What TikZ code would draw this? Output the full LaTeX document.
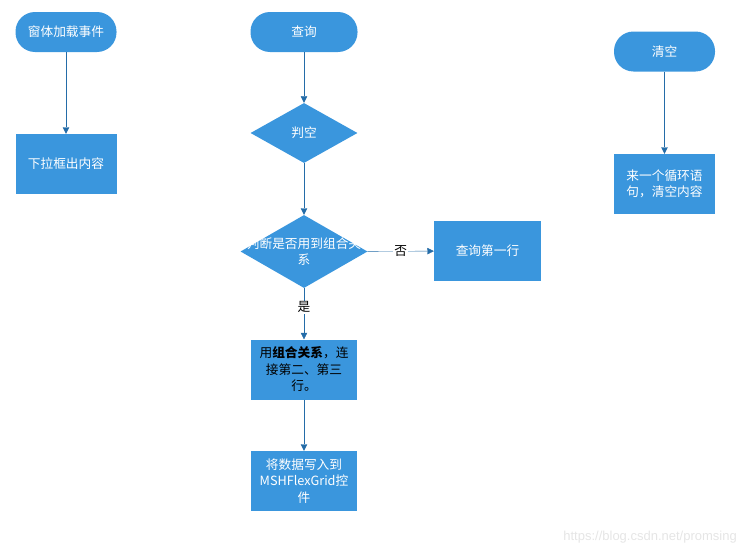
\documentclass[tikz,border=0pt]{standalone}
\usepackage{fontspec}
\newfontfamily\cjk{Noto Sans CJK SC}
\newfontfamily\wmfont{Liberation Sans}
\usetikzlibrary{shapes.geometric,arrows.meta}
\definecolor{boxblue}{RGB}{58,150,221}
\definecolor{lineblue}{RGB}{36,108,168}
\tikzset{
  base/.style={fill=boxblue,text=white,font=\cjk\fontsize{12.7}{16.5}\selectfont,align=center,inner sep=0pt},
  terminal/.style={base,rectangle,rounded corners=19.5pt,minimum width=101pt,minimum height=40pt},
  process/.style={base,rectangle,minimum width=101pt,minimum height=60pt},
  decision/.style={base,diamond,minimum width=107pt,minimum height=60pt},
  flow/.style={draw=lineblue,-{Triangle[length=6.5pt,width=6.5pt]}},
  tag/.style={fill=white,text=black,font=\cjk\fontsize{12.7}{16.5}\selectfont,inner sep=1pt}
}
\begin{document}
\begin{tikzpicture}[x=1pt,y=-1pt]
  \useasboundingbox (0,0) rectangle (745,554);
  % left column
  \node[terminal] (load) at (66,32) {窗体加载事件};
  \node[process] (combo) at (66,164) {下拉框出内容};
  % middle column
  \node[terminal,minimum width=107pt] (query) at (304,32) {查询};
  \node[decision] (empty) at (304,133) {判空};
  \node[decision,minimum width=127pt,minimum height=73pt] (isjoin) at (304,251.5) {};
  \node[base,fill=none] (isjointext) at (isjoin.center) {判断是否用到组合关\\系};
  \node[process,minimum width=107pt] (first) at (487.5,251) {查询第一行};
  \node[process,minimum width=106pt,text=black] (join) at (304,369.5) {用\textbf{组合关系}，连\\接第二、第三\\行。};
  \node[process,minimum width=106pt] (write) at (304,481) {将数据写入到\\MSHFlexGrid控\\件};
  % right column
  \node[terminal] (clear) at (664.5,51.5) {清空};
  \node[process] (loop) at (664.5,184) {来一个循环语\\句，清空内容};

  \draw[flow] (load) -- (combo);
  \draw[flow] (query) -- (empty);
  \draw[flow] (empty) -- (isjoin);
  \draw[flow] (isjoin) -- node[tag] {否} (first);
  \draw[flow] (isjoin) -- node[tag,pos=0.37] {是} (join);
  \draw[flow] (join) -- (write);
  \draw[flow] (clear) -- (loop);

  \node[text=black!10,font=\wmfont\fontsize{13}{13}\selectfont,anchor=east,inner sep=0pt] (mark) at (737,537) {https://blog.csdn.net/promsing};
\end{tikzpicture}
\end{document}
